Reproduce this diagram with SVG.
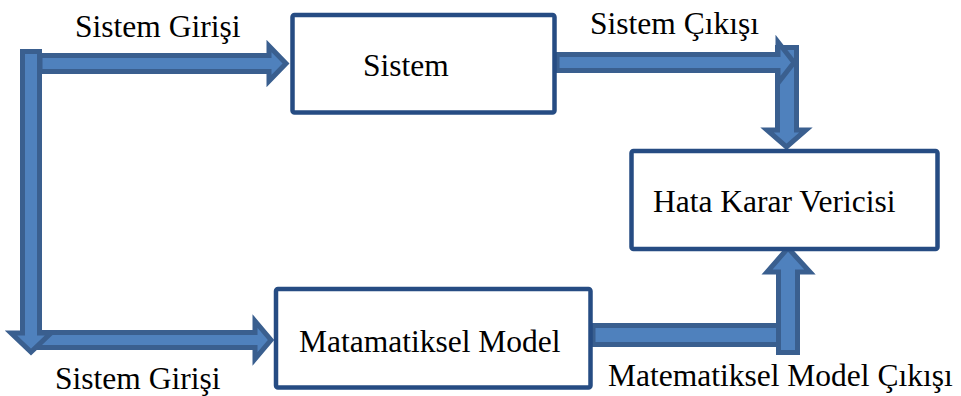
<svg xmlns="http://www.w3.org/2000/svg" width="961" height="396" viewBox="0 0 961 396">
  <style>
    .arrow { fill: #4F81BD; stroke: #3A5F8F; stroke-width: 5; stroke-linejoin: miter; }
    .box { fill: #FFFFFF; stroke: #264C83; stroke-width: 4.5; }
    .label { font-family: "Liberation Serif", "Times New Roman", serif; font-size: 31.5px; fill: #000000; }
  </style>
  <rect width="961" height="396" fill="#FFFFFF"/>

  <g id="connectors">
    <!-- input split: top branch into Sistem -->
    <polygon class="arrow" points="40,55.5 269,55.5 269,46 286,63.5 269,81 269,71.5 40,71.5"/>
    <!-- input split: bottom branch into Matematiksel Model -->
    <polygon class="arrow" points="35,332.5 255,332.5 255,321 271,340 255,359 255,347.5 35,347.5"/>
    <!-- input trunk running down the left side -->
    <polygon class="arrow" points="22.5,51.5 39.5,51.5 39.5,333 51,333 31,352 11,333 22.5,333"/>
    <!-- system output: down into Hata Karar Vericisi -->
    <polygon class="arrow" points="777.5,47.5 796.5,47.5 796.5,130 806,130 786.5,147 767,130 777.5,130"/>
    <!-- system output: horizontal run -->
    <polygon class="arrow" points="557,54.5 778,54.5 778,42 794,62.5 778,83 778,70.5 557,70.5"/>
    <!-- model output: horizontal run -->
    <polygon class="arrow" points="593,325.5 780,325.5 780,344.5 593,344.5"/>
    <!-- model output: up into Hata Karar Vericisi -->
    <polygon class="arrow" points="778.5,352.5 778.5,272 767,272 788,248 810,272 797.5,272 797.5,352.5"/>
  </g>

  <g id="node-sistem">
    <rect class="box" x="292.5" y="15" width="262" height="97.5" rx="2"/>
    <text class="label" x="363" y="76">Sistem</text>
  </g>

  <g id="node-hata">
    <rect class="box" x="631.5" y="151" width="306" height="98" rx="2"/>
    <text class="label" x="653" y="212">Hata Karar Vericisi</text>
  </g>

  <g id="node-model">
    <rect class="box" x="276" y="289" width="314.5" height="98.5" rx="2"/>
    <text class="label" x="299" y="352">Matamatiksel Model</text>
  </g>

  <g id="edge-labels">
    <text class="label" x="75" y="37">Sistem Girişi</text>
    <text class="label" x="590" y="34">Sistem Çıkışı</text>
    <text class="label" x="55" y="389">Sistem Girişi</text>
    <text class="label" x="608" y="386">Matematiksel Model Çıkışı</text>
  </g>
</svg>
